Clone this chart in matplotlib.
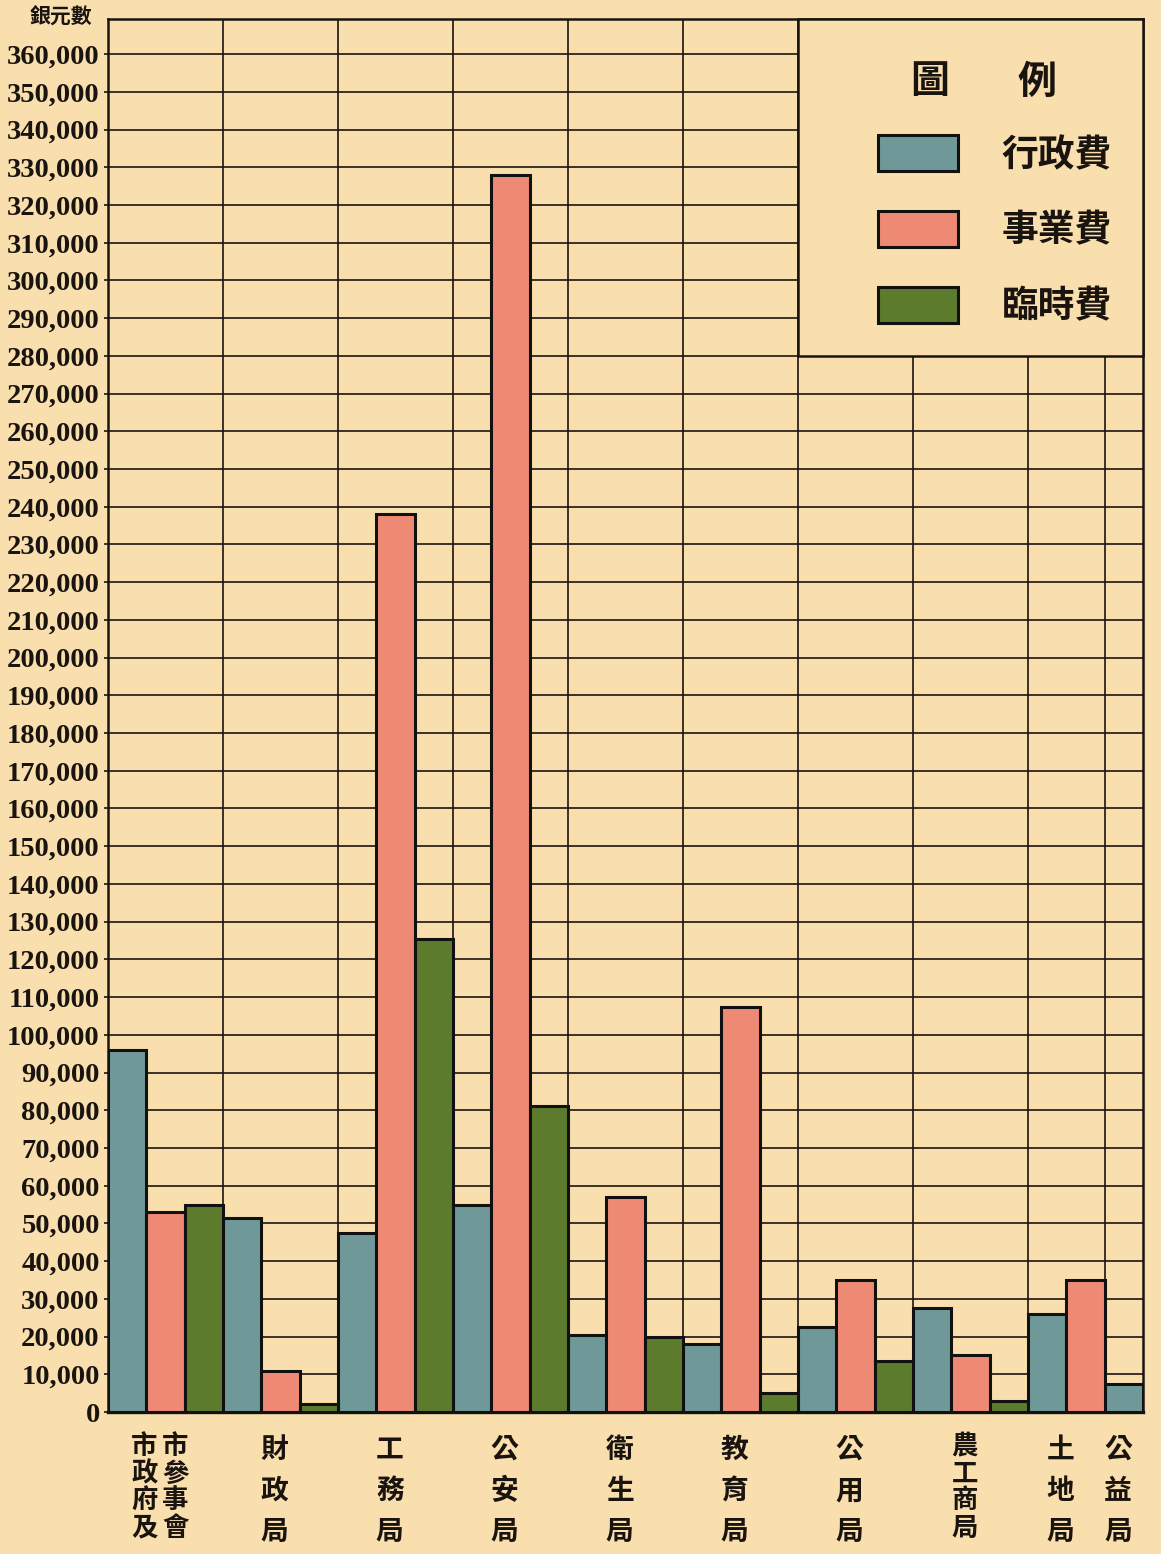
import matplotlib
matplotlib.use("Agg")
import matplotlib.pyplot as plt
from matplotlib.patches import Rectangle
from matplotlib.transforms import blended_transform_factory

# 各局經費 (銀元)
categories = ["市政府及市參事會", "財政局", "工務局", "公安局", "衛生局",
              "教育局", "公用局", "農工商局", "土地局", "公益局"]
admin_cost = [96000, 51500, 47500, 55000, 20500, 18000, 22500, 27500, 26000, 7500]
business_cost = [53000, 11000, 238000, 328000, 57000, 107500, 35000, 15000, 35000, None]
temporary_cost = [55000, 2000, 125500, 81000, 20000, 5000, 13500, 3000, None, None]
series_names = ["行政費", "事業費", "臨時費"]
y_ticks = list(range(0, 360001, 10000))

BG = "#f9dfad"
COLORS = ["#6f9998", "#ee8a74", "#5c7b2c"]
CJK = ["Noto Sans CJK TC", "DejaVu Sans"]
INK = "#1a1410"
W, H = 1161, 1554

fig = plt.figure(figsize=(W / 100, H / 100), dpi=100, facecolor=BG)
ax = fig.add_axes([108 / W, 1 - 1412 / H, (1143 - 108) / W, (1412 - 19) / H])
ax.set_facecolor(BG)

# bars laid edge to edge, groups only as wide as their non-empty values
series = [admin_cost, business_cost, temporary_cost]
xs = [[], [], []]
hs = [[], [], []]
bounds = [0]
centers = []
pos = 0
for i in range(len(categories)):
    start = pos
    for s in range(3):
        v = series[s][i]
        if v is None:
            continue
        xs[s].append(pos)
        hs[s].append(v)
        pos += 1
    bounds.append(pos)
    centers.append((start + pos) / 2)

handles = []
for s in range(3):
    b = ax.bar(xs[s], hs[s], width=1, align="edge", color=COLORS[s],
               edgecolor="#111111", linewidth=2.2, zorder=3, label=series_names[s])
    handles.append(b)

ax.set_xlim(0, pos)
ax.set_ylim(0, 369300)

# grid
for y in y_ticks[1:]:
    ax.axhline(y, color=INK, linewidth=1.2, zorder=1)
for x in bounds[1:-1]:
    ax.axvline(x, color=INK, linewidth=1.2, zorder=1)

for side in ["left", "right", "top"]:
    ax.spines[side].set_linewidth(1.8)
    ax.spines[side].set_color(INK)
ax.spines["bottom"].set_linewidth(2.4)
ax.spines["bottom"].set_color("#111111")

ax.set_xticks([])
ax.set_yticks(y_ticks)
ax.set_yticklabels([f"{v:,}" for v in y_ticks])
ax.tick_params(axis="y", length=3, width=1.2, pad=3, color=INK)
for lab in ax.get_yticklabels():
    lab.set_fontfamily(["Liberation Serif", "DejaVu Serif"])
    lab.set_fontweight("bold")
    lab.set_fontsize(20.5)
    lab.set_color(INK)

fig.text(61 / W, 1 - 17 / H, "銀元數", family=CJK, fontsize=15, fontweight="bold",
         ha="center", va="center", color=INK)

# legend box over the upper right of the grid
ax.add_patch(Rectangle((bounds[6], 280000), pos - bounds[6], 369300 - 280000,
                       facecolor=BG, edgecolor=INK, linewidth=1.8, zorder=4,
                       clip_on=False))
ax.text(930 / W, 1 - 82 / H, "圖", transform=fig.transFigure, family=CJK, fontsize=28,
        fontweight="bold", ha="center", va="center", color=INK, zorder=5)
ax.text(1037 / W, 1 - 82 / H, "例", transform=fig.transFigure, family=CJK, fontsize=28,
        fontweight="bold", ha="center", va="center", color=INK, zorder=5)
leg = ax.legend(handles=handles, loc="upper left", bbox_to_anchor=(860 / W, 1 - 117 / H),
                bbox_transform=fig.transFigure, frameon=False, borderpad=0,
                handlelength=2.15, handleheight=1.12, labelspacing=1.02,
                handletextpad=1.2, prop={"family": CJK, "size": 26.5, "weight": "bold"})
leg.set_zorder(6)
for t in leg.get_texts():
    t.set_color(INK)

# vertical category labels
trans = blended_transform_factory(ax.transData, fig.transFigure)
label_cols = {0: [("市政府及", -0.55), ("市參事會", 0.25)]}
for i, name in enumerate(categories):
    cols = label_cols.get(i, [(name, -0.15)])
    for text, dx in cols:
        step = 27 if len(text) == 4 else 41
        y0 = 1447 if len(text) == 4 else 1450
        for k, ch in enumerate(text):
            ax.text(centers[i] + dx, 1 - (y0 + k * step) / H, ch, transform=trans,
                    family=CJK, fontsize=19 if len(text) == 4 else 20,
                    fontweight="bold", ha="center", va="center", color=INK)

fig.savefig("out.png", dpi=100, facecolor=BG)
